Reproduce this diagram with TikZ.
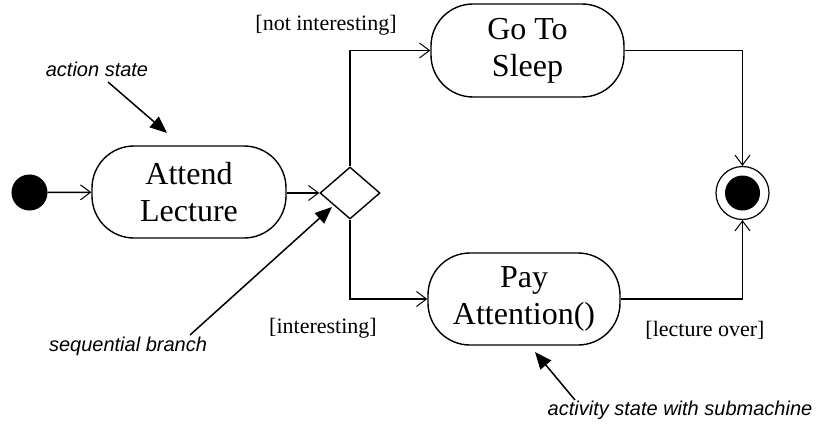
\documentclass[tikz,border=0pt]{standalone}
\usepackage{fontspec}
\setmainfont{Liberation Serif}
\newfontfamily\annotfont{Liberation Sans}
\usetikzlibrary{arrows.meta,shapes.geometric}
\tikzset{
  statebox/.style={draw, line width=1.4pt, rounded corners=42pt, inner sep=0pt,
    align=center, font=\fontsize{32}{37}\selectfont},
  flow/.style={line width=1.6pt, -{Straight Barb[length=10pt,width=15pt,line width=1pt]}},
  guard/.style={font=\fontsize{22}{26}\selectfont, inner sep=0pt},
  annot/.style={font=\annotfont\itshape\fontsize{20}{24}\selectfont, inner sep=0pt},
  annotarrow/.style={line width=1.5pt, -{Triangle[length=17pt,width=14pt]}},
}
\begin{document}
\begin{tikzpicture}[x=1pt,y=-1pt]
\useasboundingbox (0,0) rectangle (830,428);
\node[circle, fill=black, draw, line width=1pt, minimum size=35pt, inner sep=0pt] (init) at (29.5,192.5) {};
\node[statebox, minimum width=194pt, minimum height=92pt] (attend) at (189,192) {Attend\\Lecture};
\node[diamond, draw, line width=1.4pt, minimum width=60pt, minimum height=52pt, inner sep=0pt] (br) at (350,193) {};
\node[statebox, minimum width=193pt, minimum height=93pt] (sleep) at (527.5,50.5) {Go To\\Sleep};
\node[statebox, minimum width=192pt, minimum height=92pt] (pay) at (524,299) {Pay\\Attention()};
\node[circle, draw, line width=1.2pt, minimum size=53pt, inner sep=0pt] (final) at (742.5,193) {};
\node[circle, fill=black, minimum size=35pt, inner sep=0pt] (finalin) at (final.center) {};

\draw[flow] (init) -- (attend);
\draw[flow] (attend.east |- br.west) -- (br.west);
\draw[flow] (br.north) |- (sleep.west);
\draw[flow] (br.south) |- (pay.west);
\draw[flow] (sleep.east) -| (final.north);
\draw[flow] (pay.east) -| (final.south);

\node[guard] (gnot) at (326,25) {[not interesting]};
\node[guard] (gint) at (323,328) {[interesting]};
\node[guard] (glec) at (705,330) {[lecture over]};

\node[annot] (aaction) at (97,69) {action state};
\node[annot] (abranch) at (128,346) {sequential branch};
\node[annot] (asub) at (680,410) {activity state with submachine};
\coordinate (taction) at (108,82);
\coordinate (haction) at (167,133);
\coordinate (tbranch) at (190,335);
\coordinate (hbranch) at (332,207);
\coordinate (tsub) at (575,400);
\coordinate (hsub) at (535,352);
\draw[annotarrow] (taction) -- (haction);
\draw[annotarrow] (tbranch) -- (hbranch);
\draw[annotarrow] (tsub) -- (hsub);
\end{tikzpicture}
\end{document}
